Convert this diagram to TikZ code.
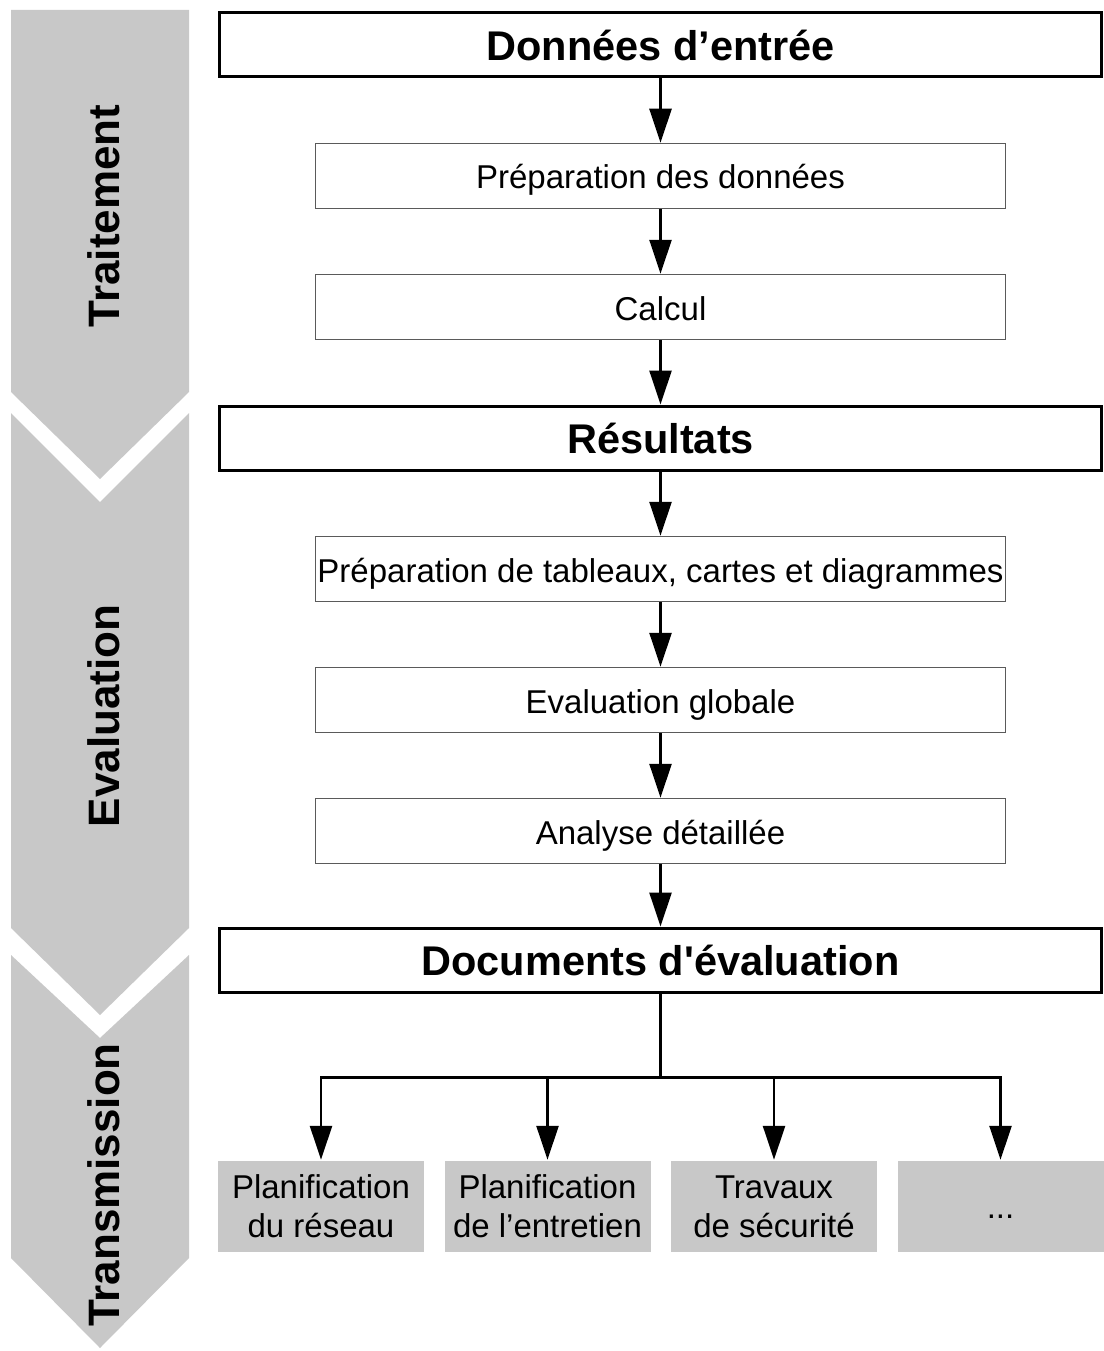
\documentclass[tikz,border=0pt]{standalone}
\usepackage{fontspec}
\setmainfont{Liberation Sans}
\usetikzlibrary{arrows.meta,positioning}
\definecolor{bandgray}{HTML}{C8C8C8}
\definecolor{boxline}{HTML}{5A5A5A}

\begin{document}
\begin{tikzpicture}[x=1pt, y=1pt, >={Triangle[length=34pt,width=22pt]}, line width=2.5pt, node distance=131pt]
    \tikzstyle{mainbox}=[draw=black, line width=3pt, minimum width=882pt, minimum height=64pt, inner sep=0pt, font=\bfseries\fontsize{41.5}{48}\selectfont]
    \tikzstyle{stepbox}=[draw=boxline, line width=1.5pt, minimum width=690pt, minimum height=65pt, inner sep=0pt, text height=26pt, text depth=0pt, font=\fontsize{33}{39}\selectfont]
    \tikzstyle{outbox}=[fill=bandgray, minimum width=206pt, minimum height=91pt, inner sep=0pt, font=\fontsize{33}{39}\selectfont]
    \tikzstyle{outtext}=[outbox, align=center]
    \tikzstyle{phase}=[rotate=90, font=\bfseries\fontsize{44}{50}\selectfont]
    \useasboundingbox (0,0) rectangle (1103,-1351);

    % phase bands on the left
    \fill[bandgray] (11,-10) -- (189,-10) -- (189,-392) -- (100,-479) -- (11,-392) -- cycle;
    \fill[bandgray] (11,-413) -- (100,-502) -- (189,-413) -- (189,-928) -- (100,-1015) -- (11,-928) -- cycle;
    \fill[bandgray] (11,-955) -- (100,-1038) -- (189,-955) -- (189,-1258) -- (100,-1348) -- (11,-1258) -- cycle;
    \node[phase]    (treat)    at (104,-216)   {Traitement};
    \node[phase]    (assess)   at (104,-716)   {Evaluation};
    \node[phase]    (transfer) at (104,-1185)  {Transmission};

    % main chain
    \node[mainbox]  (input)    at (660.5,-45)  {Données d’entrée};
    \node[stepbox]  (prep)     [below of=input]    {Préparation des données};
    \node[stepbox]  (calc)     [below of=prep]     {Calcul};
    \node[mainbox]  (results)  [below of=calc]     {Résultats};
    \node[stepbox]  (tables)   [below of=results]  {Préparation de tableaux, cartes et diagrammes};
    \node[stepbox]  (overall)  [below of=tables]   {Evaluation globale};
    \node[stepbox]  (detail)   [below of=overall]  {Analyse détaillée};
    \node[mainbox]  (docs)     [below of=detail, node distance=129pt] {Documents d\textquotesingle évaluation};

    % outputs
    \node[outtext]  (network)  at (321,-1206.5) {Planification\\du réseau};
    \node[outtext]  (upkeep)   [right of=network, node distance=226.5pt] {Planification\\de l’entretien};
    \node[outtext]  (safety)   [right of=upkeep, node distance=226.5pt]  {Travaux\\de sécurité};
    \node[outbox]   (other)    [right of=safety, node distance=226.5pt, text height=24pt, text depth=0pt] {...};

    \path[->]
(input)   edge (prep)
(prep)    edge (calc)
(calc)    edge (results)
(results) edge (tables)
(tables)  edge (overall)
(overall) edge (detail)
(detail)  edge (docs);

    \draw (docs.south) -- ++(0,-84) coordinate (split);
    \draw[->] (split) -| (network.north);
    \draw[->] (split) -| (upkeep.north);
    \draw[->] (split) -| (safety.north);
    \draw[->] (split) -| (other.north);
\end{tikzpicture}
\end{document}
